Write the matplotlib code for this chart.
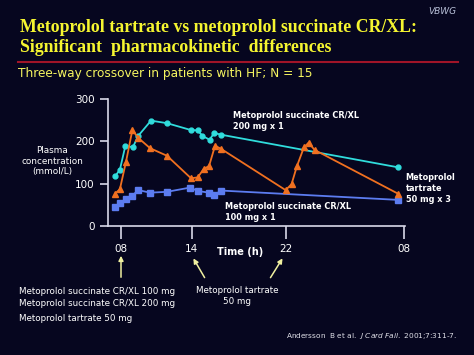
import matplotlib
matplotlib.use('Agg')
import matplotlib.pyplot as plt

# time in hours after 08:00 on day one
t_cyan = [-0.5, -0.1, 0.37, 1.0, 1.45, 2.54, 3.9, 5.9, 6.5, 6.9, 7.5, 7.9, 8.45, 23.45]
c_cyan = [118, 133, 190, 186, 213, 249, 243, 227, 226, 213, 204, 220, 216, 139]

t_orange = [-0.5, -0.1, 0.42, 0.96, 1.47, 2.46, 3.9, 5.93, 6.5, 7.0, 7.46, 7.97, 8.5,
            13.95, 14.45, 14.9, 15.5, 15.9, 16.4, 23.45]
c_orange = [77, 87, 152, 227, 208, 184, 166, 113, 115, 135, 142, 190, 182,
            85, 99, 141, 186, 197, 180, 77]

t_blue = [-0.5, -0.1, 0.42, 0.9, 1.47, 2.46, 3.9, 5.85, 6.5, 7.46, 7.9, 8.47, 23.45]
c_blue = [46, 54, 63, 71, 85, 79, 81, 91, 83, 79, 73, 84, 62]

x_ticks = [0, 6, 14, 24]
x_labels = ['08', '14', '22', '08']
y_ticks = [0, 100, 200, 300]

bg = '#06061f'
fg = 'white'
yellow = '#f5f560'

fig = plt.figure(figsize=(4.74, 3.55), dpi=100, facecolor=bg)
ax = fig.add_axes([0.228, 0.363, 0.626, 0.358], facecolor=bg)

ax.plot(t_blue, c_blue, color='#5c7cf0', marker='s', markersize=5, lw=1.3)
ax.plot(t_cyan, c_cyan, color='#30dcdc', marker='o', markersize=3.5, lw=1.3)
ax.plot(t_orange, c_orange, color='#f07020', marker='^', markersize=4, lw=1.3)

ax.set_xlim(-1.1, 24.05)
ax.set_ylim(0, 300)
ax.set_xticks(x_ticks)
ax.set_xticklabels(x_labels)
ax.set_yticks(y_ticks)
for s in ['top', 'right']:
    ax.spines[s].set_visible(False)
for s in ['left', 'bottom']:
    ax.spines[s].set_color('#d8d8e8')
    ax.spines[s].set_linewidth(1.2)
ax.tick_params(colors='#d8d8e8', labelcolor=fg, labelsize=7.5, width=1.2, length=6)
ax.tick_params(axis='x', length=9, pad=4)

# line labels
lab = dict(color=fg, fontsize=5.9, fontweight='bold', va='top', ha='left', linespacing=1.3)
fig.text(405.5 / 474, 1 - 173 / 355, 'Metoprolol\ntartrate\n50 mg x 3', **lab)
fig.text(233 / 474, 1 - 111 / 355, 'Metoprolol succinate CR/XL\n200 mg x 1', **lab)
fig.text(225 / 474, 1 - 202 / 355, 'Metoprolol succinate CR/XL\n100 mg x 1', **lab)
fig.text(52 / 474, 1 - 161 / 355, 'Plasma\nconcentration\n(mmol/L)', color=fg,
         fontsize=6.4, ha='center', va='center', linespacing=1.25)
fig.text(240 / 474, 1 - 252 / 355, 'Time (h)', color=fg, fontsize=7,
         fontweight='bold', ha='center', va='center')

# titles
title = dict(family='Liberation Serif', fontweight='bold', fontsize=12.8, color='#f5f530',
             va='center', ha='left')
fig.text(20 / 474, 1 - 28 / 355, 'Metoprolol tartrate vs metoprolol succinate CR/XL:', **title)
fig.text(20 / 474, 1 - 48 / 355, 'Significant  pharmacokinetic  differences', **title)
fig.add_artist(plt.Line2D([18 / 474, 458 / 474], [1 - 62 / 355, 1 - 62 / 355],
                          color='#a01428', lw=1.5))
fig.text(18 / 474, 1 - 74 / 355, 'Three-way crossover in patients with HF; N = 15',
         color=yellow, fontsize=8.7, va='center', ha='left')
fig.text(456 / 474, 1 - 12 / 355, 'VBWG', color='#b8c0d8', fontsize=6.5,
         style='italic', ha='right', va='center')

# dosing arrows
arrow = dict(arrowstyle='-|>', color='#f0f0a0', lw=1.1, mutation_scale=7)
fig.add_artist(matplotlib.patches.FancyArrowPatch((121 / 474, 1 - 280 / 355), (121 / 474, 1 - 253 / 355),
                                                  transform=fig.transFigure, **arrow))
fig.add_artist(matplotlib.patches.FancyArrowPatch((206 / 474, 1 - 280 / 355), (192 / 474, 1 - 256 / 355),
                                                  transform=fig.transFigure, **arrow))
fig.add_artist(matplotlib.patches.FancyArrowPatch((269 / 474, 1 - 280 / 355), (284 / 474, 1 - 256 / 355),
                                                  transform=fig.transFigure, **arrow))

note = dict(color=fg, fontsize=6.3, va='center', ha='left')
fig.text(19 / 474, 1 - 291 / 355, 'Metoprolol succinate CR/XL 100 mg', **note)
fig.text(19 / 474, 1 - 304 / 355, 'Metoprolol succinate CR/XL 200 mg', **note)
fig.text(19 / 474, 1 - 318.5 / 355, 'Metoprolol tartrate 50 mg', **note)
fig.text(237 / 474, 1 - 296 / 355, 'Metoprolol tartrate\n50 mg', color=fg, fontsize=6.3,
         va='center', ha='center', linespacing=1.3)

fig.text(457 / 474, 1 - 336 / 355,
         r'Andersson  B et al.  $\it{J\ Card\ Fail.}$ 2001;7:311-7.',
         color='#e0e0e8', fontsize=5.3, ha='right', va='center')

fig.savefig('out.png', dpi=100, facecolor=bg)
